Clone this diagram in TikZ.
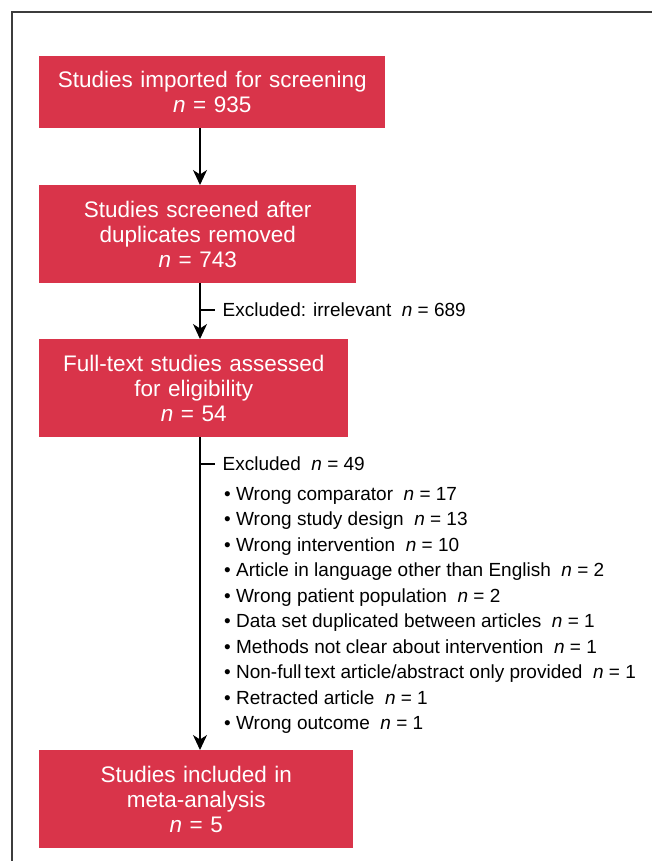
\documentclass[tikz,border=0pt]{standalone}
\usepackage{fontspec}
\setmainfont{Liberation Sans}
\usepackage{tikz}
\usetikzlibrary{arrows.meta}
\definecolor{boxred}{RGB}{217,52,74}
\definecolor{framegray}{RGB}{60,60,60}
\tikzset{
    stage/.style={
           rectangle,
           fill=boxred,
           text=white,
           font=\fontsize{22.5}{25}\selectfont,
           inner sep=0pt,
           align=center,
           anchor=north west,
           },
    note/.style={
           font=\fontsize{19}{25.5}\selectfont,
           inner xsep=7.5pt,
           inner ysep=0pt,
           anchor=west,
           },
    flow/.style={
           -{Stealth[length=15pt,width=14pt,inset=4.5pt]},
           line width=1.3pt,
           },
}

\begin{document}
\begin{tikzpicture}[x=1pt, y=-1pt]
    \useasboundingbox (0,0) rectangle (652,861);
    % frame round the chart (open to the right and bottom)
    \draw[framegray, line width=1.5pt] (12,861) -- (12,12) -- (652,12);

    % column of stages
    \node[stage,   	% layout (defined above)
    text width=346pt,	% box width
    minimum height=72pt] (imported)
    at (39,56) {Studies imported for screening\\ \textit{n} = 935};

    \node[stage,
    text width=317pt,
    minimum height=98pt] (screened)
    at (39,185) {Studies screened after\\ duplicates removed\\ \textit{n} = 743};

    \node[stage,
    text width=309pt,
    minimum height=98pt] (fulltext)
    at (39,339) {Full-text studies assessed\\ for eligibility\\ \textit{n} = 54};

    \node[stage,
    text width=314pt,
    minimum height=98pt] (included)
    at (39,750) {Studies included in\\ meta-analysis\\ \textit{n} = 5};

    % x position of the flow line
    \coordinate (ax) at (200,0);

    % exclusions
    \node[note] (irrel) at (215,310) {Excluded: irrelevant\ \ \textit{n} = 689};
    \node[note] (excl) at (215,464) {Excluded\ \ \textit{n} = 49};
    \node[note, anchor=north west, inner xsep=0pt, align=left] (reasons) at (224,487)
    {\textbullet\ Wrong comparator\ \ \textit{n} = 17\\
     \textbullet\ Wrong study design\ \ \textit{n} = 13\\
     \textbullet\ Wrong intervention\ \ \textit{n} = 10\\
     \textbullet\ Article in language other than English\ \ \textit{n} = 2\\
     \textbullet\ Wrong patient population\ \ \textit{n} = 2\\
     \textbullet\ Data set duplicated between articles\ \ \textit{n} = 1\\
     \textbullet\ Methods not clear about intervention\ \ \textit{n} = 1\\
     \textbullet\ Non-full\,text article/abstract only provided\ \ \textit{n} = 1\\
     \textbullet\ Retracted article\ \ \textit{n} = 1\\
     \textbullet\ Wrong outcome\ \ \textit{n} = 1};

    % draw the flow and the side branches
    \draw[flow] (imported.south -| ax) -- (screened.north -| ax);
    \draw[flow] (screened.south -| ax) -- (fulltext.north -| ax);
    \draw[flow] (fulltext.south -| ax) -- (included.north -| ax);
    \draw[line width=1.3pt] (irrel.west -| ax) -- (irrel.west);
    \draw[line width=1.3pt] (excl.west -| ax) -- (excl.west);
\end{tikzpicture}
\end{document}
